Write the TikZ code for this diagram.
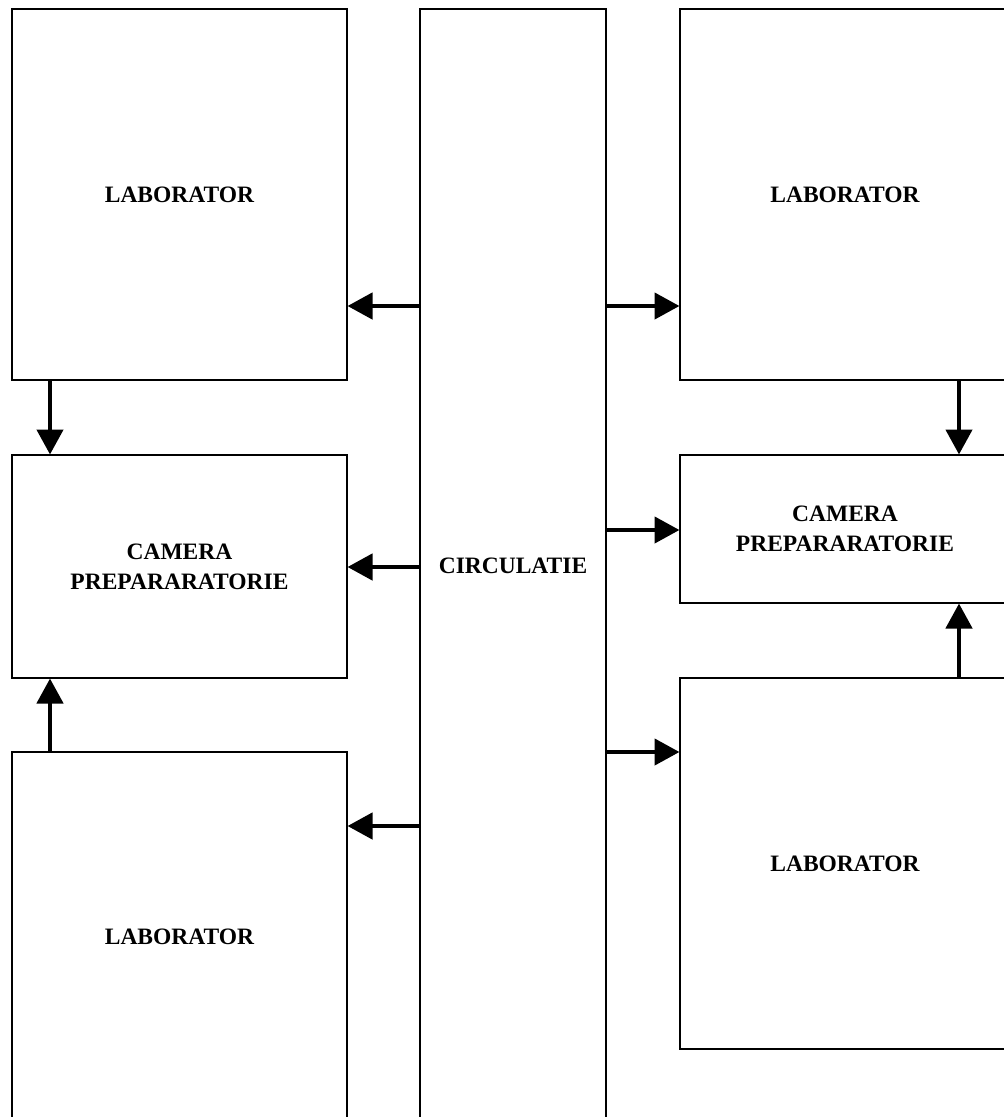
\documentclass[tikz,border=0pt]{standalone}
\usepackage{fontspec}
\setmainfont{Liberation Serif}
\usetikzlibrary{arrows.meta,calc}
\tikzset{
  room/.style={draw=black, line width=1.5pt, fill=white, inner sep=0pt, outer sep=0pt,
    align=center, font=\fontsize{23.5}{30}\selectfont\bfseries},
  arr/.style={line width=4.5pt, -{Triangle[length=25pt,width=26pt]}, shorten >=0.5pt}
}
\begin{document}
\begin{tikzpicture}[x=1pt,y=-1pt]
\useasboundingbox (0,0) rectangle (1004,1117);
\clip (0,0) rectangle (1004,1117);
\node[room, minimum width=335pt, minimum height=371pt] (labTL) at (179.5,194.5) {LABORATOR};
\node[room, minimum width=335pt, minimum height=223pt] (camL) at (179.5,566.5) {CAMERA\\PREPARARATORIE};
\node[room, minimum width=335pt, minimum height=370pt] (labBL) at (179.5,937) {LABORATOR};
\node[room, minimum width=186pt, minimum height=1113pt] (circ) at (513,565.5) {CIRCULATIE};
\node[room, minimum width=330pt, minimum height=371pt] (labTR) at (845,194.5) {LABORATOR};
\node[room, minimum width=330pt, minimum height=148pt] (camR) at (845,529) {CAMERA\\PREPARARATORIE};
\node[room, minimum width=330pt, minimum height=371pt] (labBR) at (845,863.5) {LABORATOR};
% reference levels
\coordinate (yA) at (0,306);
\coordinate (yB) at (0,567);
\coordinate (yC) at (0,826);
\coordinate (yD) at (0,530);
\coordinate (yE) at (0,752);
\coordinate (xL) at (50,0);
\coordinate (xR) at (959,0);
% horizontal arrows
\draw[arr] (circ.west |- yA) -- (labTL.east |- yA);
\draw[arr] (circ.west |- yB) -- (camL.east |- yB);
\draw[arr] (circ.west |- yC) -- (labBL.east |- yC);
\draw[arr] (circ.east |- yA) -- (labTR.west |- yA);
\draw[arr] (circ.east |- yD) -- (camR.west |- yD);
\draw[arr] (circ.east |- yE) -- (labBR.west |- yE);
% vertical arrows
\draw[arr] (labTL.south -| xL) -- (camL.north -| xL);
\draw[arr] (labBL.north -| xL) -- (camL.south -| xL);
\draw[arr] (labTR.south -| xR) -- (camR.north -| xR);
\draw[arr] (labBR.north -| xR) -- (camR.south -| xR);
\end{tikzpicture}
\end{document}
